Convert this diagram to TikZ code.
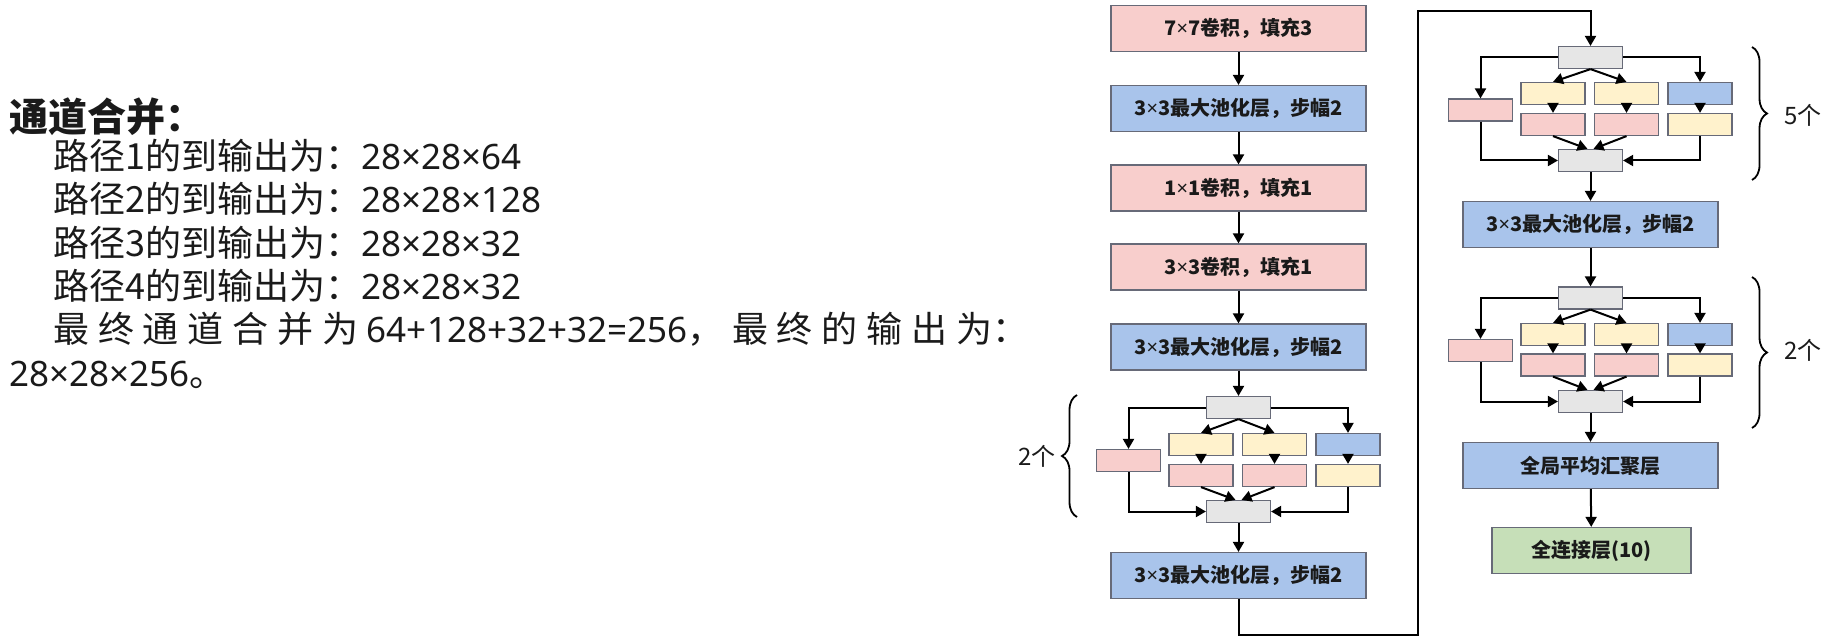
\documentclass[tikz,border=0pt]{standalone}
\usepackage{fontspec}
\setmainfont{Noto Sans CJK SC}
\newfontfamily\latinfont{Noto Sans}
\newcommand{\mul}{{\latinfont ×}}
\newcommand{\lat}[1]{{\latinfont\fontsize{35}{43}\selectfont #1}}
\usepackage{tikz}
\usetikzlibrary{arrows.meta,decorations.pathreplacing}

\definecolor{pinkc}{HTML}{F8CECC}
\definecolor{bluec}{HTML}{A9C4EB}
\definecolor{yellowc}{HTML}{FFF2CC}
\definecolor{grayc}{HTML}{E6E6E6}
\definecolor{greenc}{HTML}{C6DFB8}
\definecolor{edgec}{HTML}{676A78}
\definecolor{textc}{HTML}{1A1A1A}

\tikzset{
  box/.style={draw=edgec, line width=1.2pt, minimum width=255pt, minimum height=46pt, inner sep=0pt, font=\fontsize{20}{24}\selectfont\bfseries, text=textc},
  small/.style={draw=edgec, line width=1.2pt, minimum width=64pt, minimum height=22pt, inner sep=0pt},
  arr/.style={-{Triangle[length=10pt,width=11pt]}, line width=2pt},
  txt/.style={anchor=west, inner sep=0pt, font=\fontsize{36}{43}\selectfont, text=textc},
  times/.style={inner sep=0pt, font=\fontsize{24}{26}\selectfont, text=textc},
  curly/.style={decorate, decoration={brace, amplitude=15pt}, line width=1.8pt}
}

\begin{document}
\begin{tikzpicture}[x=1pt, y=-1pt]
\useasboundingbox (0,0) rectangle (1838,639);

% text on the left
\node[txt, font=\fontsize{39}{43}\selectfont\bfseries] (title) at (9,117) {通道合并：};
\node[txt] (path1) at (53,156) {路径1的到输出为：\lat{28×28×64}};
\node[txt] (path2) at (53,199) {路径2的到输出为：\lat{28×28×128}};
\node[txt] (path3) at (53,243) {路径3的到输出为：\lat{28×28×32}};
\node[txt] (path4) at (53,286) {路径4的到输出为：\lat{28×28×32}};
\node[txt] (total) at (53,329) {\makebox[975pt][s]{最\hfill 终\hfill 通\hfill 道\hfill 合\hfill 并\hfill 为\hfill \lat{64+128+32+32=256}，\hfill 最\hfill 终\hfill 的\hfill 输\hfill 出\hfill 为：}};
\node[txt] (result) at (9,375) {\lat{28×28×256}。};

% first column
\node[box, fill=pinkc] (conv7) at (1238.5,28.5) {7\mul7卷积，填充3};
\node[box, fill=bluec] (pool1) at (1238.5,108.5) {3\mul3最大池化层，步幅2};
\node[box, fill=pinkc] (conv1) at (1238.5,188) {1\mul1卷积，填充1};
\node[box, fill=pinkc] (conv3) at (1238.5,267) {3\mul3卷积，填充1};
\node[box, fill=bluec] (pool2) at (1238.5,347) {3\mul3最大池化层，步幅2};
\node[box, fill=bluec] (pool3) at (1238.5,575.5) {3\mul3最大池化层，步幅2};

% inception block, 2 times
\begin{scope}[shift={(1238.5,407.5)}, name prefix=a-]
\node[small, fill=grayc] (in) at (0,0) {};
\node[small, fill=pinkc] (p0) at (-110,53) {};
\node[small, fill=yellowc] (y1) at (-37.5,37) {};
\node[small, fill=yellowc] (y2) at (36,37) {};
\node[small, fill=bluec] (mp) at (109.5,37) {};
\node[small, fill=pinkc] (p1) at (-37.5,68) {};
\node[small, fill=pinkc] (p2) at (36,68) {};
\node[small, fill=yellowc] (y3) at (109.5,68) {};
\node[small, fill=grayc] (out) at (0,104) {};
\draw[arr] (in.west) -| (p0.north);
\draw[arr] (in.east) -| (mp.north);
\draw[arr] (in.south) -- (y1.north);
\draw[arr] (in.south) -- (y2.north);
\draw[arr] (y1) -- (p1);
\draw[arr] (y2) -- (p2);
\draw[arr] (mp) -- (y3);
\draw[arr] (p1.south) -- ([xshift=-3pt]out.north);
\draw[arr] (p2.south) -- ([xshift=3pt]out.north);
\draw[arr] (p0.south) |- (out.west);
\draw[arr] (y3.south) |- (out.east);
\end{scope}

% second column
\node[box, fill=bluec] (pool4) at (1590.5,224.5) {3\mul3最大池化层，步幅2};
\node[box, fill=bluec] (gap) at (1590.5,465.5) {全局平均汇聚层};
\node[box, fill=greenc, minimum width=199pt] (fc) at (1591.5,550.5) {全连接层(10)};

% inception block, 5 times
\begin{scope}[shift={(1590.5,57.5)}, name prefix=b-]
\node[small, fill=grayc] (in) at (0,0) {};
\node[small, fill=pinkc] (p0) at (-110,52.5) {};
\node[small, fill=yellowc] (y1) at (-37.5,36) {};
\node[small, fill=yellowc] (y2) at (36,36) {};
\node[small, fill=bluec] (mp) at (109.5,36) {};
\node[small, fill=pinkc] (p1) at (-37.5,67) {};
\node[small, fill=pinkc] (p2) at (36,67) {};
\node[small, fill=yellowc] (y3) at (109.5,67) {};
\node[small, fill=grayc] (out) at (0,103) {};
\draw[arr] (in.west) -| (p0.north);
\draw[arr] (in.east) -| (mp.north);
\draw[arr] (in.south) -- (y1.north);
\draw[arr] (in.south) -- (y2.north);
\draw[arr] (y1) -- (p1);
\draw[arr] (y2) -- (p2);
\draw[arr] (mp) -- (y3);
\draw[arr] (p1.south) -- ([xshift=-3pt]out.north);
\draw[arr] (p2.south) -- ([xshift=3pt]out.north);
\draw[arr] (p0.south) |- (out.west);
\draw[arr] (y3.south) |- (out.east);
\end{scope}

% inception block, 2 times
\begin{scope}[shift={(1590.5,298)}, name prefix=c-]
\node[small, fill=grayc] (in) at (0,0) {};
\node[small, fill=pinkc] (p0) at (-110,52.5) {};
\node[small, fill=yellowc] (y1) at (-37.5,36.5) {};
\node[small, fill=yellowc] (y2) at (36,36.5) {};
\node[small, fill=bluec] (mp) at (109.5,36.5) {};
\node[small, fill=pinkc] (p1) at (-37.5,67) {};
\node[small, fill=pinkc] (p2) at (36,67) {};
\node[small, fill=yellowc] (y3) at (109.5,67) {};
\node[small, fill=grayc] (out) at (0,103.5) {};
\draw[arr] (in.west) -| (p0.north);
\draw[arr] (in.east) -| (mp.north);
\draw[arr] (in.south) -- (y1.north);
\draw[arr] (in.south) -- (y2.north);
\draw[arr] (y1) -- (p1);
\draw[arr] (y2) -- (p2);
\draw[arr] (mp) -- (y3);
\draw[arr] (p1.south) -- ([xshift=-3pt]out.north);
\draw[arr] (p2.south) -- ([xshift=3pt]out.north);
\draw[arr] (p0.south) |- (out.west);
\draw[arr] (y3.south) |- (out.east);
\end{scope}

% connectors between layers
\draw[arr] (conv7) -- (pool1);
\draw[arr] (pool1) -- (conv1);
\draw[arr] (conv1) -- (conv3);
\draw[arr] (conv3) -- (pool2);
\draw[arr] (pool2) -- (a-in);
\draw[arr] (a-out) -- (pool3);
\coordinate (turn1) at (1418,635);
\coordinate (turn2) at (1418,11);
\draw[arr] (pool3.south) |- (turn1) -- (turn2) -| (b-in.north);
\draw[arr] (b-out) -- (pool4);
\draw[arr] (pool4) -- (c-in);
\draw[arr] (c-out) -- (gap);
\draw[arr] (gap) -- (fc);

% repeat counts
\draw[curly] (1077,517) -- (1077,395);
\node[times] (rep1) at (1037,456) {2个};
\draw[curly] (1752,47) -- (1752,180);
\node[times] (rep2) at (1803,115) {5个};
\draw[curly] (1752,277) -- (1752,428);
\node[times] (rep3) at (1803,350) {2个};
\end{tikzpicture}
\end{document}
